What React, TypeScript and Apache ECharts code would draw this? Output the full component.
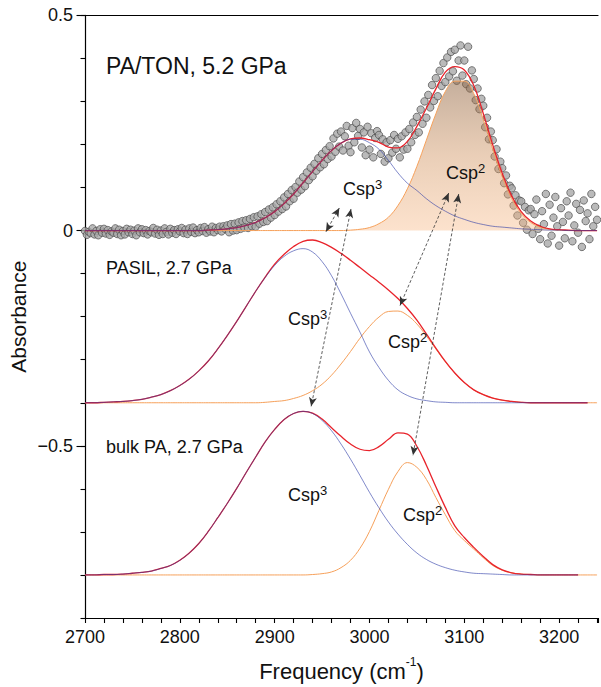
import React, { useEffect, useRef } from "react";
import * as echarts from "echarts";

// ---- axes / grid of the fitted curves (cm^-1) ----
const FIT_START = 2700;
const FIT_STEP = 10;
const DATA_START = 2700;
const DATA_STEP = 2;
const X_MIN = 2700;
const X_MAX = 3241;
const Y_MIN = -0.9;
const Y_MAX = 0.5;
const X_LABEL_TICKS = [2700, 2800, 2900, 3000, 3100, 3200];
const Y_LABEL_TICKS = [-0.5, 0, 0.5];

// ---- PA/TON, 5.2 GPa (baseline 0) ----
const PATON_OFFSET = 0;
const PATON_DATA = [
  -0.001, -0.010, -0.003, -0.006, 0.005,
  -0.009, -0.001, -0.011, 0.003, -0.005,
  0.004, -0.007, 0.001, -0.010, -0.002,
  -0.005, 0.005, -0.008, 0.002, -0.011,
  -0.001, -0.009, 0.004, -0.004, 0.002,
  -0.008, 0.0, -0.011, 0.005, -0.004,
  0.003, -0.006, 0.001, -0.009, -0.001,
  -0.004, 0.006, -0.007, 0.002, -0.010,
  0.0, -0.008, 0.005, -0.003, -0.009,
  0.004, -0.005, 0.001, -0.008, 0.003,
  -0.002, 0.006, -0.006, 0.002, -0.008,
  0.005, -0.003, 0.007, -0.006, 0.001,
  -0.004, 0.006, -0.001, 0.008, -0.005,
  0.003, -0.002, 0.009, -0.004, 0.006,
  0.001, 0.009, -0.002, 0.010, 0.004,
  0.012, -0.004, 0.015, 0.0, 0.016,
  0.001, 0.019, 0.004, 0.022, 0.007,
  0.024, 0.006, 0.027, 0.010, 0.031,
  0.009, 0.033, 0.016, 0.038, 0.020,
  0.043, 0.022, 0.049, 0.030, 0.054,
  0.036, 0.061, 0.044, 0.068, 0.050,
  0.077, 0.056, 0.085, 0.068, 0.094,
  0.074, 0.101, 0.088, 0.114, 0.095,
  0.124, 0.103, 0.135, 0.117, 0.146,
  0.126, 0.155, 0.139, 0.168, 0.147,
  0.178, 0.154, 0.187, 0.166, 0.196,
  0.172, 0.214, 0.183, 0.225, 0.195,
  0.230, 0.186, 0.219, 0.243, 0.197,
  0.182, 0.238, 0.205, 0.250, 0.220,
  0.236, 0.193, 0.228, 0.175, 0.241,
  0.188, 0.226, 0.170, 0.215, 0.231,
  0.222, 0.178, 0.212, 0.160, 0.205,
  0.168, 0.210, 0.181, 0.222, 0.190,
  0.213, 0.170, 0.219, 0.188, 0.228,
  0.190, 0.236, 0.205, 0.251, 0.222,
  0.264, 0.228, 0.281, 0.248, 0.300,
  0.262, 0.315, 0.286, 0.338, 0.301,
  0.354, 0.312, 0.371, 0.336, 0.389,
  0.345, 0.402, 0.358, 0.415, 0.370,
  0.420, 0.348, 0.395, 0.430, 0.360,
  0.395, 0.340, 0.427, 0.330, 0.372,
  0.352, 0.303, 0.330, 0.282, 0.306,
  0.290, 0.240, 0.262, 0.212, 0.230,
  0.210, 0.172, 0.189, 0.143, 0.160,
  0.145, 0.110, 0.128, 0.084, 0.104,
  0.098, 0.058, 0.082, 0.035, 0.070,
  0.068, 0.018, 0.055, 0.002, 0.047,
  0.050, -0.008, 0.038, 0.072, 0.004,
  -0.020, 0.045, 0.015, 0.085, -0.030,
  0.060, -0.012, 0.030, 0.078, 0.010,
  -0.035, 0.052, 0.020, -0.018, 0.068,
  0.035, 0.088, -0.025, 0.012, 0.062,
  -0.005, 0.048, -0.038, 0.070, 0.022,
  0.040, -0.020, 0.085, 0.010, 0.055,
  0.025,
];
const PATON_CSP3 = [
  0, 0, 0, 0, 0, 0, 0, 0, 0, 0, 0, 0, 0,
  0.001, 0.002, 0.004, 0.007, 0.012, 0.019, 0.030, 0.044, 0.063, 0.085,
  0.111, 0.137, 0.163, 0.186, 0.203, 0.212, 0.212, 0.204, 0.189, 0.163,
  0.134, 0.110, 0.093, 0.074, 0.058, 0.045, 0.034, 0.026, 0.019, 0.014,
  0.010, 0.008, 0.006, 0.004, 0.003, 0.002, 0.001, 0.001, 0, 0, 0, 0,
];
const PATON_CSP2 = [
  0, 0, 0, 0, 0, 0, 0, 0, 0, 0, 0, 0, 0, 0, 0, 0, 0, 0, 0, 0,
  0, 0, 0, 0, 0, 0, 0, 0,
  0.001, 0.003, 0.007, 0.016, 0.031, 0.058, 0.097, 0.149, 0.210, 0.271,
  0.323, 0.347, 0.347, 0.318, 0.258, 0.189, 0.125, 0.074, 0.040, 0.019,
  0.008, 0.003, 0.001, 0, 0, 0, 0,
];
const PATON_FIT = [
  0, 0, 0, 0, 0, 0, 0, 0, 0, 0, 0, 0, 0,
  0.001, 0.002, 0.004, 0.007, 0.012, 0.019, 0.030, 0.044, 0.063, 0.085,
  0.111, 0.137, 0.163, 0.186, 0.203, 0.213, 0.215, 0.211, 0.205, 0.194,
  0.192, 0.207, 0.242, 0.284, 0.329, 0.368, 0.381, 0.373, 0.337, 0.272,
  0.199, 0.133, 0.080, 0.044, 0.022, 0.010, 0.004, 0.002, 0.001, 0, 0, 0,
];

// ---- PASIL, 2.7 GPa (baseline -0.4) ----
const PASIL_OFFSET = -0.4;
const PASIL_CSP3 = [
  0, 0, 0.001, 0.002, 0.003, 0.005, 0.008, 0.013, 0.019, 0.028,
  0.040, 0.055, 0.074, 0.097, 0.125, 0.156, 0.189, 0.224, 0.259, 0.291,
  0.319, 0.340, 0.353, 0.358, 0.350, 0.328, 0.295, 0.253, 0.208, 0.164,
  0.118, 0.082, 0.052, 0.030, 0.017, 0.009, 0.005, 0.002, 0.001, 0,
  0, 0, 0, 0, 0, 0, 0, 0, 0, 0, 0, 0, 0, 0, null,
];
const PASIL_CSP2 = [
  0, 0, 0, 0, 0, 0, 0, 0, 0, 0, 0, 0, 0, 0, 0, 0, 0, 0, 0,
  0.001, 0.003, 0.005, 0.010, 0.017, 0.028, 0.043, 0.064, 0.090, 0.119,
  0.150, 0.177, 0.199, 0.212, 0.213, 0.203, 0.183, 0.155, 0.125, 0.095,
  0.069, 0.047, 0.030, 0.019, 0.011, 0.006, 0.003, 0.001,
  0, 0, 0, 0, 0, 0, 0, 0,
];
const PASIL_FIT = [
  0, 0, 0.001, 0.002, 0.003, 0.005, 0.008, 0.013, 0.019, 0.028,
  0.040, 0.055, 0.074, 0.097, 0.125, 0.156, 0.189, 0.224, 0.259, 0.292,
  0.322, 0.345, 0.363, 0.375, 0.378, 0.372, 0.361, 0.347, 0.331, 0.314,
  0.297, 0.280, 0.262, 0.242, 0.219, 0.192, 0.160, 0.127, 0.096, 0.069,
  0.047, 0.030, 0.019, 0.011, 0.006, 0.003, 0.001, 0, 0, 0, 0, 0, 0, 0, null,
];

// ---- bulk PA, 2.7 GPa (baseline -0.8) ----
const BULK_OFFSET = -0.8;
const BULK_CSP3 = [
  0, 0, 0.001, 0.001, 0.002, 0.004, 0.006, 0.009, 0.015, 0.022,
  0.034, 0.051, 0.073, 0.101, 0.133, 0.166, 0.201, 0.238, 0.274, 0.309,
  0.338, 0.361, 0.375, 0.380, 0.375, 0.359, 0.335, 0.304, 0.269, 0.231,
  0.192, 0.156, 0.123, 0.095, 0.071, 0.051, 0.036, 0.025, 0.017, 0.011,
  0.007, 0.004, 0.003, 0.002, 0.001, 0, 0, 0, 0, 0, 0, 0, 0, null, null,
];
const BULK_CSP2 = [
  0, 0, 0, 0, 0, 0, 0, 0, 0, 0, 0, 0, 0, 0, 0, 0, 0, 0, 0, 0, 0, 0, 0, 0,
  0.001, 0.003, 0.007, 0.017, 0.034, 0.062, 0.101, 0.150, 0.199, 0.240,
  0.261, 0.250, 0.222, 0.180, 0.140, 0.103, 0.080, 0.060, 0.040, 0.022,
  0.011, 0.005, 0.002, 0.001, 0, 0, 0, 0, 0, 0, 0,
];
const BULK_FIT = [
  0, 0, 0.001, 0.001, 0.002, 0.004, 0.006, 0.009, 0.015, 0.022,
  0.034, 0.051, 0.073, 0.101, 0.133, 0.166, 0.201, 0.238, 0.274, 0.309,
  0.338, 0.361, 0.375, 0.380, 0.376, 0.362, 0.342, 0.322, 0.304, 0.292,
  0.289, 0.298, 0.315, 0.330, 0.327, 0.299, 0.255, 0.205, 0.157, 0.114,
  0.087, 0.064, 0.043, 0.024, 0.012, 0.005, 0.002, 0.001, 0, 0, 0, 0, 0, null, null,
];

// ---- dashed double arrows linking peaks [freq, absorbance] ----
const ARROWS = [
  [[2968.2, 0.0524], [2954.1, -0.0026]],
  [[2980.5, 0.0501], [2938.5, -0.4084]],
  [[3083.6, 0.0872], [3032.2, -0.1742]],
  [[3094.1, 0.0849], [3045.9, -0.522]],
];

const FONT = "'Liberation Sans', Arial, Helvetica, sans-serif";
const RED = "#e8232b";
const BLUE = "#2c3aa6";
const ORANGE = "#f6a05a";

function curve(values: (number | null)[], offset: number) {
  const out: number[][] = [];
  values.forEach((v, i) => {
    if (v === null || v === undefined) return;
    out.push([FIT_START + i * FIT_STEP, v + offset]);
  });
  return out;
}

function lineSeries(name: string, values: (number | null)[], offset: number, color: string, width: number, extra: any = {}) {
  return {
    name,
    type: "line",
    data: curve(values, offset),
    smooth: 0.4,
    showSymbol: false,
    symbol: "none",
    silent: true,
    lineStyle: { color, width },
    emphasis: { disabled: true },
    ...extra,
  };
}

function sup(base: string, s: string) {
  return `{a|${base}}{s|${s}}`;
}

export default function App() {
  const ref = useRef<HTMLDivElement>(null);
  useEffect(() => {
    if (!ref.current) return;
    const chart = echarts.init(ref.current, undefined, { renderer: "svg" });

    const scatterData = PATON_DATA.map((v, i) => [DATA_START + i * DATA_STEP, v + PATON_OFFSET]);

    const richText = {
      a: { fontSize: 18, fontFamily: FONT, fill: "#111", lineHeight: 20, verticalAlign: "bottom" },
      s: { fontSize: 13, fontFamily: FONT, fill: "#111", lineHeight: 13, verticalAlign: "top" },
    };
    const cspLabel = (x: number, y: number, n: string) => ({
      type: "text",
      x,
      y,
      silent: true,
      z: 100,
      style: { text: sup("Csp", n), rich: richText, verticalAlign: "middle", align: "left", fill: "#111" },
    });
    const plainLabel = (x: number, y: number, text: string, size: number) => ({
      type: "text",
      x,
      y,
      silent: true,
      z: 100,
      style: { text, fontSize: size, fontFamily: FONT, fill: "#111", verticalAlign: "middle", align: "left" },
    });

    const blueStyle = { color: BLUE, width: 1, opacity: 0.6 };

    const option: any = {
      animation: false,
      textStyle: { fontFamily: FONT },
      grid: { left: 84.3, right: 0, top: 15.3, bottom: 68, containLabel: false },
      xAxis: [
        {
          type: "value",
          min: X_MIN,
          max: X_MAX,
          interval: 20,
          axisLine: { show: true, onZero: false, lineStyle: { color: "#000", width: 1.2 } },
          axisTick: { show: true, length: 5, lineStyle: { color: "#000", width: 1.1 } },
          axisLabel: {
            show: true,
            fontSize: 18,
            color: "#111",
            margin: 10,
            fontFamily: FONT,
            formatter: (v: number) => (X_LABEL_TICKS.indexOf(Math.round(v)) >= 0 && Math.abs(v - Math.round(v)) < 1e-6 ? String(Math.round(v)) : ""),
          },
          splitLine: { show: false },
          name: "{a|Frequency (cm}{s|-1}{a|)}",
          nameLocation: "middle",
          nameGap: 38,
          nameTextStyle: {
            fontSize: 22,
            color: "#111",
            fontFamily: FONT,
            rich: {
              a: { fontSize: 22, color: "#111", fontFamily: FONT, lineHeight: 26, verticalAlign: "bottom" },
              s: { fontSize: 12, color: "#111", fontFamily: FONT, lineHeight: 14, verticalAlign: "top" },
            },
          },
        },
        {
          type: "value",
          position: "top",
          min: X_MIN,
          max: X_MAX,
          axisLine: { show: true, onZero: false, lineStyle: { color: "#000", width: 1.2 } },
          axisTick: { show: false },
          axisLabel: { show: false },
          splitLine: { show: false },
        },
      ],
      yAxis: [
        {
          type: "value",
          position: "left",
          min: Y_MIN,
          max: Y_MAX,
          interval: 0.1,
          axisLine: { show: true, onZero: false, lineStyle: { color: "#000", width: 1.2 } },
          axisTick: { show: true, length: 4.5, lineStyle: { color: "#000", width: 1.1 } },
          axisLabel: { show: false },
          splitLine: { show: false },
          name: "Absorbance",
          nameLocation: "middle",
          nameGap: 56,
          nameTextStyle: { fontSize: 21, color: "#111", fontFamily: FONT },
        },
        {
          type: "value",
          position: "left",
          min: Y_MIN,
          max: Y_MAX,
          axisLine: { show: false },
          axisTick: { show: true, length: 8.5, customValues: Y_LABEL_TICKS, lineStyle: { color: "#000", width: 1.1 } },
          axisLabel: {
            show: true,
            customValues: Y_LABEL_TICKS,
            fontSize: 18,
            color: "#111",
            margin: 12,
            fontFamily: FONT,
            formatter: (v: number) => {
              const r = Math.round(v * 10) / 10;
              if (r === 0) return "0";
              return r < 0 ? "\u2212" + String(-r) : String(r);
            },
          },
          splitLine: { show: false },
        },
      ],
      series: [
        {
          name: "PA/TON data",
          type: "scatter",
          data: scatterData,
          symbol: "circle",
          symbolSize: 7.5,
          silent: true,
          itemStyle: { color: "#a9a9a9", borderColor: "#404040", borderWidth: 0.8 },
          emphasis: { disabled: true },
          z: 2,
        },
        lineSeries("PA/TON Csp2", PATON_CSP2, PATON_OFFSET, ORANGE, 1, {
          z: 3,
          areaStyle: {
            origin: 0,
            color: new echarts.graphic.LinearGradient(0, 0, 0, 1, [
              { offset: 0, color: "rgba(140,96,60,0.72)" },
              { offset: 0.5, color: "rgba(205,140,85,0.6)" },
              { offset: 1, color: "rgba(248,180,125,0.55)" },
            ]),
          },
        }),
        lineSeries("PASIL Csp2", PASIL_CSP2, PASIL_OFFSET, ORANGE, 1, { z: 3 }),
        lineSeries("bulk Csp2", BULK_CSP2, BULK_OFFSET, ORANGE, 1, { z: 3 }),
        lineSeries("PA/TON fit", PATON_FIT, PATON_OFFSET, RED, 1.3, {
          z: 4,
          markLine: {
            silent: true,
            symbol: ["arrow", "arrow"],
            symbolSize: [6, 9],
            label: { show: false },
            emphasis: { disabled: true },
            lineStyle: { color: "#333", width: 0.8, type: [3, 2] },
            itemStyle: { color: "#111" },
            data: ARROWS.map(([a, b]) => [{ coord: a }, { coord: b }]),
          },
        }),
        lineSeries("PASIL fit", PASIL_FIT, PASIL_OFFSET, RED, 1.3, { z: 4 }),
        lineSeries("bulk fit", BULK_FIT, BULK_OFFSET, RED, 1.3, { z: 4 }),
        lineSeries("PA/TON Csp3", PATON_CSP3, PATON_OFFSET, BLUE, 1, { z: 5, lineStyle: blueStyle }),
        lineSeries("PASIL Csp3", PASIL_CSP3, PASIL_OFFSET, BLUE, 1, { z: 5, lineStyle: blueStyle }),
        lineSeries("bulk Csp3", BULK_CSP3, BULK_OFFSET, BLUE, 1, { z: 5, lineStyle: blueStyle }),
      ],
      graphic: [
        plainLabel(106, 66, "PA/TON, 5.2 GPa", 23),
        plainLabel(106, 268, "PASIL, 2.7 GPa", 18),
        plainLabel(106, 447, "bulk PA, 2.7 GPa", 18),
        cspLabel(343, 188, "3"),
        cspLabel(446, 172, "2"),
        cspLabel(288, 318, "3"),
        cspLabel(388, 341, "2"),
        cspLabel(288, 494, "3"),
        cspLabel(403, 514, "2"),
      ],
    };
    chart.setOption(option);
    return () => chart.dispose();
  }, []);

  return <div ref={ref} style={{ position: "fixed", left: 0, top: 0, width: 601, height: 687, background: "#fff" }} />;
}
